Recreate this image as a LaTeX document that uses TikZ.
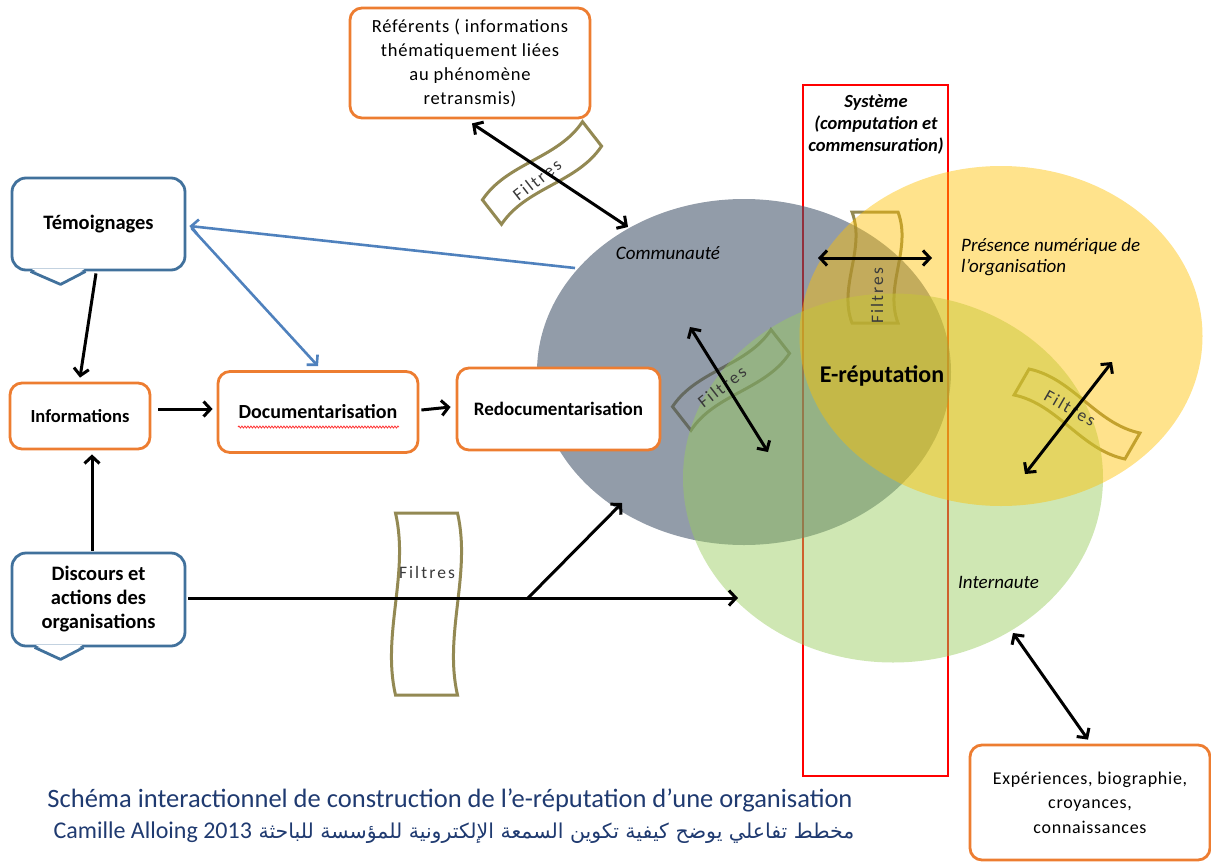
\documentclass[tikz,border=0pt]{standalone}
\usepackage{fontspec}
\setmainfont{Carlito}
\newfontfamily\spacedfont[LetterSpace=4]{Carlito}
\newfontfamily\filtrefont[LetterSpace=12]{Carlito}
\newfontfamily\arabicfont[Script=Arabic]{DejaVu Sans}
\TeXXeTstate=1
\usetikzlibrary{arrows.meta,shapes.geometric,calc,decorations.pathmorphing}

\definecolor{boxorange}{HTML}{ED7D31}
\definecolor{calloutblue}{HTML}{41719C}
\definecolor{linkblue}{HTML}{4F81BD}
\definecolor{filtreolive}{HTML}{938953}
\definecolor{comfill}{HTML}{44546A}
\definecolor{intfill}{HTML}{99CC5E}
\definecolor{presfill}{HTML}{FFC000}
\definecolor{sysred}{HTML}{FF0000}
\definecolor{captionblue}{HTML}{1F3A70}
\definecolor{filtretext}{HTML}{3A3A3A}

\newcommand\fsz[2]{\fontsize{#1}{#2}\selectfont}

% wavy "Filtres" band: centre, angle, length, width
\newcommand\filtreband[5]{%
  \begin{scope}[shift={(#1,#2)}, rotate=#3]
    \filldraw[filtre] (-#4/2,-#5/2) .. controls (-#4/6,-#5/2-14) and (#4/6,-#5/2+14) .. (#4/2,-#5/2)
      -- (#4/2,#5/2) .. controls (#4/6,#5/2+14) and (-#4/6,#5/2-14) .. (-#4/2,#5/2) -- cycle;
  \end{scope}}

\tikzset{
  barb/.tip={Straight Barb[length=7pt,width=15pt]},
  arr/.style={line width=3pt, draw=black, -barb},
  darr/.style={line width=3pt, draw=black, barb-barb},
  barr/.style={line width=2.6pt, draw=linkblue, -barb},
  obox/.style={draw=boxorange, line width=2.8pt, rounded corners=12pt, fill=white,
    inner sep=0pt, align=center},
  cbox/.style={draw=calloutblue, line width=2.8pt, rounded corners=14pt, fill=white,
    inner sep=0pt, align=center, font=\bfseries\fsz{20.5}{24}},
  tailline/.style={draw=calloutblue, line width=2.8pt, line join=round},
  filtre/.style={draw=filtreolive, line width=3pt, fill=white},
  filtrelbl/.style={font=\filtrefont\fsz{17.5}{18}, text=filtretext, inner sep=0pt},
  zone/.style={ellipse, inner sep=0pt},
  zonelbl/.style={font=\itshape\fsz{19}{21}, inner sep=0pt},
}

\begin{document}
\begin{tikzpicture}[x=1pt,y=-1pt]
\useasboundingbox (0,0) rectangle (1211,863);

% system frame
\node[draw=sysred, line width=2.5pt, minimum width=145pt, minimum height=691pt, inner sep=0pt] (sysbox) at (875.5,430.5) {};

% filter bands lying under the zones
\filtreband{542}{173}{38}{127}{31}
\filtreband{731}{380}{38}{125}{30}
\filtreband{875}{267.5}{90}{111}{46}
\filtreband{1077}{414}{-30}{128}{30}
\filtreband{426.5}{604}{90}{182}{62}

% zones
\node[zone, minimum width=414pt, minimum height=346pt, fill=comfill, fill opacity=0.58] (com) at (744,372) {};
\node[zone, minimum width=420pt, minimum height=369pt, fill=intfill, fill opacity=0.47] (int) at (893,478) {};
\node[zone, minimum width=403pt, minimum height=340pt, fill=presfill, fill opacity=0.45] (pres) at (1001,336) {};

\node[zonelbl] (comlbl) at (668,253) {Communauté};
\node[zonelbl, anchor=north west, align=left] (preslbl) at (961,238) {Présence numérique de\\l’organisation};
\node[zonelbl, anchor=west] (intlbl) at (958,582) {Internaute};
\node[font=\bfseries\fsz{24}{26}, inner sep=0pt] (erep) at (882,376) {E-réputation};
\node[font=\bfseries\itshape\fsz{18.5}{22}, inner sep=0pt, align=center] (systitle) at (876,125)
  {Système\\(computation et\\commensuration)};

% filter labels
\node[filtrelbl, rotate=38] (f1) at (537,180) {Filtres};
\node[filtrelbl, rotate=38] (f2) at (722,387) {Filtres};
\node[filtrelbl, rotate=90] (f3) at (877,296) {Filtres};
\node[filtrelbl, rotate=-30] (f4) at (1070,408) {Filtres};
\node[filtrelbl] (f5) at (427,572) {Filtres};

% boxes
\node[obox, minimum width=240pt, minimum height=110pt, font=\spacedfont\fsz{18.5}{24}] (ref) at (470,63)
  {Référents ( informations\\thématiquement liées\\au phénomène\\retransmis)};
\node[obox, minimum width=140pt, minimum height=66pt, font=\bfseries\fsz{18.5}{20}] (info) at (80,416) {Informations};
\node[obox, minimum width=200pt, minimum height=81pt, font=\bfseries\fsz{20}{24}] (doc) at (318,412) {Documentarisation};
\node[obox, minimum width=203pt, minimum height=82pt, font=\bfseries\fsz{19}{20}] (redoc) at (558.5,409) {Redocumentarisation};
\node[obox, minimum width=240pt, minimum height=115pt, font=\spacedfont\fsz{18}{24.5}] (exp) at (1090,802.5)
  {Expériences, biographie,\\croyances,\\connaissances};

% spelling underline under Documentarisation
\draw[red!80!white, line width=0.8pt, decorate, decoration={snake, amplitude=1pt, segment length=3pt}]
  ($(doc.center)+(-80,15)$) -- ($(doc.center)+(81,15)$);

% callouts
\node[cbox, minimum width=173pt, minimum height=92pt] (tem) at (98.5,224) {Témoignages};
\fill[white] ($(tem.south west)+(21,-2.5)$) -- ($(tem.south west)+(50,13)$) -- ($(tem.south west)+(74,-2.5)$) -- cycle;
\draw[tailline] ($(tem.south west)+(20,0)$) -- ($(tem.south west)+(50,13)$) -- ($(tem.south west)+(75,0)$);

\node[cbox, minimum width=173pt, minimum height=93pt] (disc) at (98.5,599.5) {Discours et\\actions des\\organisations};
\fill[white] ($(disc.south west)+(25,-2.5)$) -- ($(disc.south west)+(50,12)$) -- ($(disc.south west)+(72,-2.5)$) -- cycle;
\draw[tailline] ($(disc.south west)+(24,0)$) -- ($(disc.south west)+(50,12)$) -- ($(disc.south west)+(73,0)$);

% anchor points inside the zones
\coordinate (comA) at (628,227);
\coordinate (comB) at (575,268);
\coordinate (comC) at (622,503);
\coordinate (intA) at (738,598);
\coordinate (split) at (528,598);
\coordinate (fA1) at (690,327);
\coordinate (fA2) at (768,452);
\coordinate (fB1) at (818,258);
\coordinate (fB2) at (932,258);
\coordinate (fC1) at (1112,362);
\coordinate (fC2) at (1025,474);
\coordinate (intB) at (1013,633);

% connectors
\draw[darr] ($(ref.south)+(2,4)$) -- (comA);
\draw[darr] (fA1) -- (fA2);
\draw[darr] (fB1) -- (fB2);
\draw[darr] (fC1) -- (fC2);
\draw[darr] (intB) -- ($(exp.north)+(-2,-4)$);

\draw[arr] ($(tem.south)+(-2.5,2)$) -- ($(info.north)+(0,-4)$);
\draw[arr] ($(disc.north)+(-6.5,-1)$) -- ($(info.south)+(12,4)$);
\draw[arr] ($(info.east)+(7,-7)$) -- ($(doc.west)+(-4,-3)$);
\draw[arr] ($(doc.east)+(2,-2)$) -- ($(redoc.west)+(-5,-2)$);
\draw[arr] ($(disc.east)+(2,-1.5)$) -- (intA);
\draw[arr] (split) -- (comC);

\draw[barr] (comB) -- ($(tem.east)+(3,2)$);
\draw[barr] ($(tem.east)+(5,4)$) -- ($(doc.north)+(0,-4)$);

% caption
\node[font=\fsz{26.5}{30}, text=captionblue, inner sep=0pt] (cap1) at (450,800)
  {Schéma interactionnel de construction de l’e-réputation d’une organisation};
\node[font=\fsz{24}{30}, text=captionblue, inner sep=0pt] (cap2) at (454,833)
  {\arabicfont\fsz{20.5}{30}\beginR مخطط تفاعلي يوضح كيفية تكوين السمعة الإلكترونية للمؤسسة للباحثة {\rmfamily\fsz{24}{30}\beginL Camille Alloing 2013\endL}\endR};
\end{tikzpicture}
\end{document}
